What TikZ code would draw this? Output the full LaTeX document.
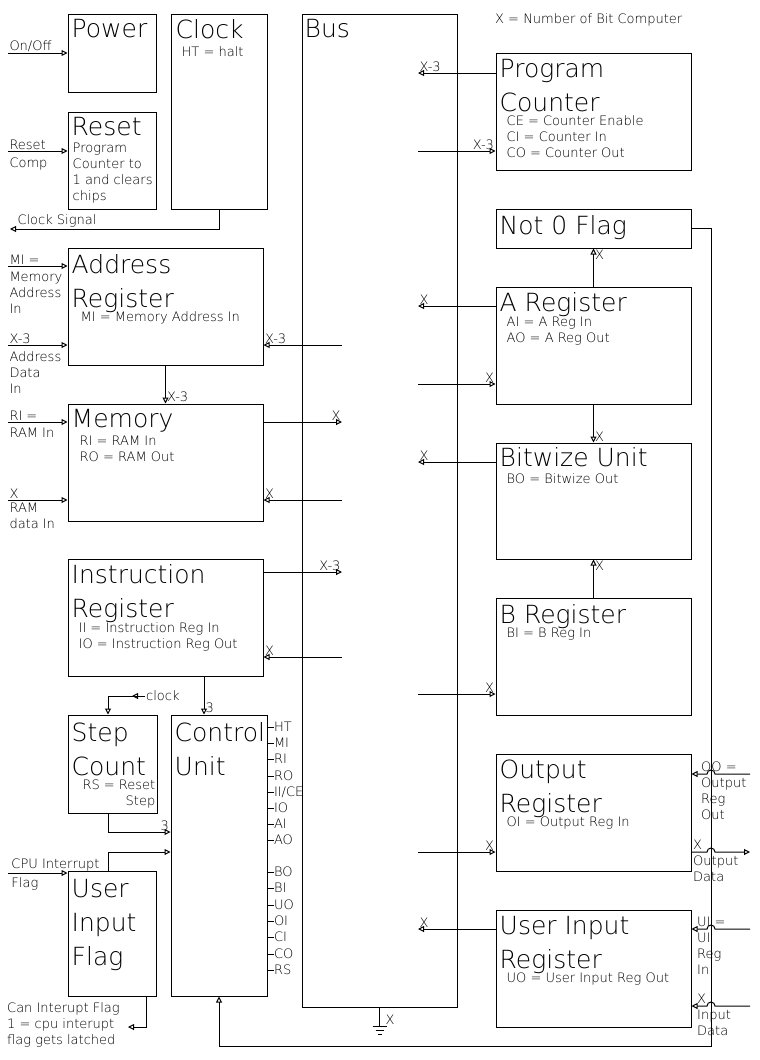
\documentclass[tikz,border=0pt]{standalone}
\usepackage{fontspec}
\newfontfamily\thinfont{DejaVu Sans ExtraLight}
\usetikzlibrary{arrows.meta}
\begin{document}
\begin{tikzpicture}[
  x=1pt, y=-1pt,
  box/.style={draw,line width=1pt,inner sep=0pt},
  ttl/.style={anchor=north west,inner sep=0pt,align=left,
    font=\thinfont\fontsize{25}{34}\selectfont},
  sub/.style={anchor=north west,inner sep=0pt,align=left,
    font=\thinfont\fontsize{13}{16}\selectfont},
  lab/.style={inner sep=1pt,align=left,font=\thinfont\fontsize{13}{16}\selectfont},
  wire/.style={line width=1pt},
  flow/.style={wire,-{Triangle[open,length=6pt,width=6pt]}}
]
\useasboundingbox (0,0) rectangle (760,1060);

% blocks
\node[box,minimum width=88,minimum height=78] (power) at (112,53) {};
\node[box,minimum width=96,minimum height=195] (clock) at (219,111.5) {};
\node[box,minimum width=88,minimum height=97] (reset) at (112,160.5) {};
\node[box,minimum width=155,minimum height=993] (bus) at (379.5,510.5) {};
\node[box,minimum width=195,minimum height=117] (pc) at (593.5,111.5) {};
\node[box,minimum width=195,minimum height=39] (notz) at (593.5,228.5) {};
\node[box,minimum width=195,minimum height=117] (areg) at (593.5,345.5) {};
\node[box,minimum width=195,minimum height=116] (bitw) at (593.5,501) {};
\node[box,minimum width=195,minimum height=117] (breg) at (593.5,656.5) {};
\node[box,minimum width=195,minimum height=117] (oreg) at (593.5,812.5) {};
\node[box,minimum width=195,minimum height=117] (uireg) at (593.5,968.5) {};
\node[box,minimum width=195,minimum height=117] (mar) at (165.5,306.5) {};
\node[box,minimum width=195,minimum height=117] (mem) at (165.5,462.5) {};
\node[box,minimum width=195,minimum height=117] (ireg) at (165.5,617.5) {};
\node[box,minimum width=89,minimum height=98] (step) at (112.5,764) {};
\node[box,minimum width=96,minimum height=281] (ctrl) at (219,855.5) {};
\node[box,minimum width=88,minimum height=125] (uif) at (112,933.5) {};

% block texts
\node[ttl] (tPower) at ([shift={(4,6)}]power.north west) {Power};
\node[ttl] (tClock) at ([shift={(5,6)}]clock.north west) {Clock};
\node[sub] (dClock) at ([shift={(11,33)}]clock.north west) {HT = halt};
\node[ttl] (tReset) at ([shift={(4,6)}]reset.north west) {Reset};
\node[sub] (dReset) at ([shift={(5,31)}]reset.north west)
  {Program\\Counter to\\1 and clears\\chips};
\node[ttl] (tBus) at ([shift={(3,6)}]bus.north west) {Bus};
\node[ttl] (tPc) at ([shift={(4,7)}]pc.north west) {Program\\Counter};
\node[sub] (dPc) at ([shift={(11,63)}]pc.north west)
  {CE = Counter Enable\\CI = Counter In\\CO = Counter Out};
\node[ttl] (tNotz) at ([shift={(4,7)}]notz.north west) {Not 0 Flag};
\node[ttl] (tAreg) at ([shift={(4,6)}]areg.north west) {A Register};
\node[sub] (dAreg) at ([shift={(11,30)}]areg.north west)
  {AI = A Reg In\\AO = A Reg Out};
\node[ttl] (tBitw) at ([shift={(4,5)}]bitw.north west) {Bitwize Unit};
\node[sub] (dBitw) at ([shift={(11,31)}]bitw.north west) {BO = Bitwize Out};
\node[ttl] (tBreg) at ([shift={(4,7)}]breg.north west) {B Register};
\node[sub] (dBreg) at ([shift={(11,30)}]breg.north west) {BI = B Reg In};
\node[ttl] (tOreg) at ([shift={(4,6)}]oreg.north west) {Output\\Register};
\node[sub] (dOreg) at ([shift={(11,63)}]oreg.north west) {OI = Output Reg In};
\node[ttl] (tUireg) at ([shift={(4,7)}]uireg.north west) {User Input\\Register};
\node[sub] (dUireg) at ([shift={(11,63)}]uireg.north west) {UO = User Input Reg Out};
\node[ttl] (tMar) at ([shift={(4,7)}]mar.north west) {Address\\Register};
\node[sub] (dMar) at ([shift={(13,64)}]mar.north west) {MI = Memory Address In};
\node[ttl] (tMem) at ([shift={(4,6)}]mem.north west) {Memory};
\node[sub] (dMem) at ([shift={(12,32)}]mem.north west) {RI = RAM In\\RO = RAM Out};
\node[ttl] (tIreg) at ([shift={(4,6)}]ireg.north west) {Instruction\\Register};
\node[sub] (dIreg) at ([shift={(11,64)}]ireg.north west)
  {II = Instruction Reg In\\IO = Instruction Reg Out};
\node[ttl] (tStep) at ([shift={(4,8)}]step.north west) {Step\\Count};
\node[sub,anchor=north east,align=right] (dStep) at ([shift={(-2,65)}]step.north east)
  {RS = Reset\\Step};
\node[ttl] (tCtrl) at ([shift={(4,8)}]ctrl.north west) {Control\\Unit};
\node[ttl] (tUif) at ([shift={(4,9)}]uif.north west) {User\\Input\\Flag};

\node[lab,anchor=north west] (note) at (494,12) {X = Number of Bit Computer};

% free ends
\coordinate (busL) at (342,0);
\coordinate (busR) at (418,0);
\coordinate (inOnOff) at (8,53);
\coordinate (inReset) at (8,151);
\coordinate (clkSig) at (10,229);
\coordinate (inMi) at (8,266);
\coordinate (inAddr) at (8,345);
\coordinate (inRi) at (8,422);
\coordinate (inRam) at (8,500);
\coordinate (inCpu) at (8,873);
\coordinate (canInt) at (128,1027);
\coordinate (rail) at (711,1046);
\coordinate (outOO) at (750,774);
\coordinate (outData) at (750,852);
\coordinate (inUI) at (750,929);
\coordinate (inData) at (750,1006);

% left inputs
\draw[flow] (inOnOff) -- (power.west) node[lab,pos=0,anchor=south west] (lOnOff) {On/Off};
\draw[flow] (inReset) -- (reset.west |- inReset)
  node[lab,pos=0,anchor=south west] (lReset) {Reset}
  node[lab,pos=0,anchor=north west,yshift=-5pt] (lComp) {Comp};
\draw[flow] (clock.south) |- (clkSig)
  node[lab,pos=1,anchor=south west,xshift=6pt] (lClk) {Clock Signal};
\draw[flow] (inMi) -- (mar.west |- inMi)
  node[lab,pos=0,anchor=south west] (lMi) {MI =}
  node[lab,pos=0,anchor=north west,yshift=-5pt] (lMi2) {Memory\\Address\\In};
\draw[flow] (inAddr) -- (mar.west |- inAddr)
  node[lab,pos=0,anchor=south west] (lAddr) {X-3}
  node[lab,pos=0,anchor=north west,yshift=-5pt] (lAddr2) {Address\\Data\\In};
\draw[flow] (inRi) -- (mem.west |- inRi)
  node[lab,pos=0,anchor=south west] (lRi) {RI =}
  node[lab,pos=0,anchor=north west,yshift=-5pt] (lRi2) {RAM In};
\draw[flow] (inRam) -- (mem.west |- inRam)
  node[lab,pos=0,anchor=south west] (lRam) {X}
  node[lab,pos=0,anchor=north west,yshift=-2pt] (lRam2) {RAM\\data In};
\draw[flow] (inCpu) -- (uif.west |- inCpu)
  node[lab,pos=0,anchor=south west,xshift=2pt] (lCpu) {CPU Interrupt}
  node[lab,pos=0,anchor=north west,xshift=2pt,yshift=-3pt] (lCpu2) {Flag};

% bus, left side
\draw[flow] (busL |- 0,345) -- (mar.east |- 0,345) node[lab,above right] (lB1) {X-3};
\draw[flow] (mem.east |- 0,422) -- (busL |- 0,422) node[lab,above left] (lB2) {X};
\draw[flow] (busL |- 0,500) -- (mem.east |- 0,500) node[lab,above right] (lB3) {X};
\draw[flow] (ireg.east |- 0,572) -- (busL |- 0,572) node[lab,above left] (lB4) {X-3};
\draw[flow] (busL |- 0,657) -- (ireg.east |- 0,657) node[lab,above right] (lB5) {X};

% bus, right side
\draw[flow] (pc.west |- 0,73) -- (busR |- 0,73) node[lab,above right] (lR1) {X-3};
\draw[flow] (busR |- 0,151) -- (pc.west |- 0,151) node[lab,above left] (lR2) {X-3};
\draw[flow] (areg.west |- 0,306) -- (busR |- 0,306) node[lab,above right] (lR3) {X};
\draw[flow] (busR |- 0,384) -- (areg.west |- 0,384) node[lab,above left] (lR4) {X};
\draw[flow] (bitw.west |- 0,462) -- (busR |- 0,462) node[lab,above right] (lR5) {X};
\draw[flow] (busR |- 0,694) -- (breg.west |- 0,694) node[lab,above left] (lR6) {X};
\draw[flow] (busR |- 0,852) -- (oreg.west |- 0,852) node[lab,above left] (lR7) {X};
\draw[flow] (uireg.west |- 0,929) -- (busR |- 0,929) node[lab,above right] (lR8) {X};

% between blocks
\draw[flow] (mar.south) -- (mem.north) node[lab,above right] (lM1) {X-3};
\draw[flow] (204,0 |- ireg.south) -- (204,0 |- ctrl.north) node[lab,above right] (lM2) {3};
\draw[flow] (areg.north) -- (notz.south) node[lab,below right] (lM3) {X};
\draw[flow] (areg.south) -- (bitw.north) node[lab,above right] (lM4) {X};
\draw[flow] (breg.north) -- (bitw.south) node[lab,below right] (lM5) {X};

% step counter and flag
\node[lab,anchor=west] (clk) at (145,696) {clock};
\draw[flow] (clk.west) -- ++(-13,0);
\draw[flow] (clk.west) -| (108,0 |- step.north);
\draw[flow] (108,0 |- step.south) |- (ctrl.west |- 0,832) node[lab,above left] (lM6) {3};
\draw[flow] (108,0 |- uif.north) |- (ctrl.west |- 0,852);
\draw[flow] (146,0 |- uif.south) |- (canInt);
\node[lab,anchor=north west] (lCan) at (6,1001)
  {Can Interupt Flag\\1 = cpu interupt\\flag gets latched};

% control lines
\foreach \sig/\yy [count=\i] in {HT/727,MI/743,RI/759,RO/776,II\slash CE/792,IO/808,
    AI/824,AO/840,BO/872,BI/888,UO/905,OI/921,CI/937,CO/954,RS/970}
  \draw[wire] (ctrl.east |- 0,\yy) -- ++(6,0)
    node[lab,anchor=west,inner sep=0pt] (sig\i) {\sig};

% not 0 flag back to control unit
\draw[flow] (notz.east) -- (rail |- notz.east) -- (rail) -| (ctrl.south);

% outside world, with hops over the rail
\draw[flow] (outOO) -- (715,774) arc[start angle=0,end angle=180,radius=4pt]
  -- (oreg.east |- outOO);
\draw[flow] (oreg.east |- outData) -- (707,852) arc[start angle=180,end angle=0,radius=4pt]
  -- (outData);
\draw[flow] (inUI) -- (715,929) arc[start angle=0,end angle=180,radius=4pt]
  -- (uireg.east |- inUI);
\draw[flow] (inData) -- (715,1006) arc[start angle=0,end angle=180,radius=4pt]
  -- (uireg.east |- inData);
\node[lab,anchor=south west] (lOO) at (700,773) {OO =};
\node[lab,anchor=north west] (lOO2) at (700,777) {Output\\Reg\\Out};
\node[lab,anchor=south west] (lOut) at (692,851) {X};
\node[lab,anchor=north west] (lOut2) at (692,855) {Output\\Data};
\node[lab,anchor=south west] (lUI) at (696,928) {UI =};
\node[lab,anchor=north west] (lUI2) at (696,932) {UI\\Reg\\In};
\node[lab,anchor=south west] (lIn) at (696,1005) {X};
\node[lab,anchor=north west] (lIn2) at (696,1009) {Input\\Data};

% ground of the bus
\draw[wire] (bus.south) -- ++(0,19) coordinate (gnd);
\draw[wire] ([xshift=-7pt]gnd) -- ([xshift=7pt]gnd);
\draw[wire] ([shift={(-4,4)}]gnd) -- ([shift={(4,4)}]gnd);
\draw[wire] ([shift={(-2,8)}]gnd) -- ([shift={(2,8)}]gnd);
\node[lab,anchor=south west] (lGnd) at ([shift={(5,-1)}]gnd) {X};
\end{tikzpicture}
\end{document}
